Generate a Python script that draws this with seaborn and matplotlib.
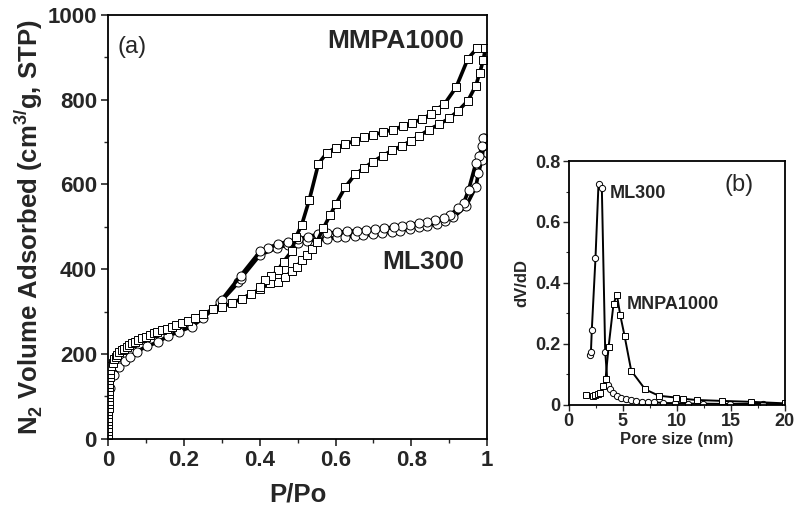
import numpy as np
import pandas as pd
import matplotlib
matplotlib.use("Agg")
import matplotlib.pyplot as plt
from matplotlib.ticker import MultipleLocator, FuncFormatter
import seaborn as sns

sns.set_style("ticks")
plt.rcParams['font.family'] = ['Liberation Sans', 'DejaVu Sans']
plt.rcParams['font.weight'] = 'bold'
plt.rcParams['mathtext.fontset'] = 'custom'
plt.rcParams['mathtext.bf'] = 'Liberation Sans:bold'
plt.rcParams['mathtext.rm'] = 'Liberation Sans:bold'

# ------------------------------
# (a) N2 isotherms, P/Po vs volume adsorbed
mmpa_ads_x = [0.0005, 0.0006, 0.0007, 0.0008, 0.0009, 0.001, 0.0011, 0.0012, 0.0013, 0.0014,
              0.0015, 0.0017, 0.0019, 0.0021, 0.0024, 0.0027, 0.003, 0.0035, 0.004, 0.005, 0.006,
              0.009, 0.012, 0.016, 0.02, 0.025, 0.03, 0.036, 0.042, 0.049, 0.056, 0.064, 0.072,
              0.08, 0.09, 0.1, 0.11, 0.12, 0.13, 0.142, 0.155, 0.168, 0.18, 0.195, 0.21, 0.23,
              0.25, 0.278, 0.3, 0.326, 0.353, 0.377, 0.401, 0.427, 0.449, 0.466, 0.484, 0.498,
              0.511, 0.524, 0.537, 0.551, 0.568, 0.586, 0.601, 0.626, 0.652, 0.674, 0.698, 0.725,
              0.749, 0.775, 0.799, 0.819, 0.846, 0.874, 0.9, 0.924, 0.949, 0.97, 0.98, 0.99, 0.995]
mmpa_ads_v = [2, 10, 18, 26, 34, 42, 50, 58, 66, 74,
              82, 90, 98, 106, 114, 122, 130, 138, 146, 154, 162,
              172, 180, 188, 194, 199, 204, 209, 213, 217, 221, 225, 229,
              233, 237, 241, 245, 249, 252, 256, 260, 264, 268, 273, 278, 286,
              294, 306, 311, 320, 331, 342, 353, 367, 371, 381, 395, 406,
              422, 434, 447, 465, 497, 528, 554, 594, 624, 638, 653, 668,
              680, 691, 703, 713, 729, 742, 756, 774, 797, 833, 862, 894, 921]
mmpa_des_x = [0.973, 0.949, 0.918, 0.887, 0.865, 0.852, 0.828, 0.801, 0.777, 0.751, 0.725,
              0.7, 0.675, 0.652, 0.625, 0.601, 0.577, 0.555, 0.531, 0.511, 0.496, 0.484,
              0.463, 0.449, 0.431, 0.414, 0.4]
mmpa_des_v = [921, 896, 829, 789, 776, 766, 754, 745, 737, 729, 723,
              717, 711, 703, 695, 687, 674, 649, 564, 505, 477, 442,
              418, 399, 383, 375, 358]

ml_ads_x = [0.005, 0.015, 0.03, 0.045, 0.058, 0.076, 0.102, 0.133, 0.159, 0.188, 0.221,
            0.251, 0.296, 0.344, 0.35, 0.401, 0.445, 0.475, 0.5, 0.524, 0.551, 0.577, 0.603,
            0.625, 0.652, 0.673, 0.7, 0.722, 0.748, 0.77, 0.797, 0.819, 0.841, 0.867, 0.889,
            0.911, 0.945, 0.97, 0.977, 0.986, 0.99, 0.992]
ml_ads_v = [120, 150, 170, 183, 194, 206, 218, 229, 243, 253, 265,
            285, 322, 369, 378, 434, 450, 458, 463, 467, 470, 472, 475,
            476, 479, 480, 482, 485, 488, 491, 495, 499, 503, 507, 513,
            522, 550, 594, 627, 658, 690, 709]
ml_des_x = [0.988, 0.986, 0.979, 0.97, 0.951, 0.938, 0.924, 0.902, 0.885, 0.863, 0.841,
            0.819, 0.797, 0.775, 0.753, 0.729, 0.705, 0.68, 0.656, 0.63, 0.603, 0.577,
            0.553, 0.528, 0.501, 0.475, 0.449, 0.422, 0.401, 0.35, 0.3]
ml_des_v = [709, 690, 666, 650, 587, 556, 544, 528, 520, 515, 511,
            509, 505, 502, 499, 497, 494, 493, 491, 489, 487, 485,
            482, 477, 471, 465, 460, 450, 442, 385, 328]

# ------------------------------
# (b) pore size distribution
ml_pore = [1.92, 2.05, 2.13, 2.47, 2.75, 3.06, 3.37, 3.6, 3.77, 4.07, 4.45, 4.85, 5.31,
           5.78, 6.24, 6.76, 7.31, 7.93, 8.7, 9.8, 11.0, 12.4, 14.9, 18.0, 20.0]
ml_dvdd = [0.162, 0.175, 0.246, 0.481, 0.725, 0.71, 0.175, 0.065, 0.051, 0.038, 0.03,
           0.024, 0.02, 0.016, 0.013, 0.011, 0.009, 0.009, 0.006, 0.006, 0.004, 0.004,
           0.003, 0.003, 0.002]
mnpa_pore = [1.6, 2.2, 2.45, 2.7, 2.9, 3.15, 3.4, 3.68, 4.14, 4.45, 4.76, 5.16, 5.78,
             7.07, 8.33, 9.94, 10.6, 11.85, 14.2, 16.9, 20.0]
mnpa_dvdd = [0.032, 0.03, 0.031, 0.035, 0.04, 0.062, 0.084, 0.189, 0.331, 0.362, 0.295,
             0.227, 0.112, 0.051, 0.03, 0.024, 0.02, 0.016, 0.013, 0.01, 0.005]

fig = plt.figure(figsize=(8, 5.08), dpi=100)
ax1 = fig.add_axes([0.135, 0.136, 0.474, 0.835])
ax2 = fig.add_axes([0.711, 0.203, 0.27, 0.48])

mk = dict(markerfacecolor='white', markeredgecolor='black', markeredgewidth=0.7)

def draw(ax, x, y, marker, ms, lw):
    sns.lineplot(x=x, y=y, ax=ax, color='black', linewidth=lw, marker=marker,
                 markersize=ms, estimator=None, sort=False, **mk)

draw(ax1, ml_ads_x, ml_ads_v, 'o', 6.5, 2.6)
draw(ax1, ml_des_x, ml_des_v, 'o', 6.5, 2.6)
draw(ax1, mmpa_ads_x, mmpa_ads_v, 's', 6, 2.6)
draw(ax1, mmpa_des_x, mmpa_des_v, 's', 6, 2.6)

draw(ax2, ml_pore, ml_dvdd, 'o', 4.5, 1.4)
draw(ax2, mnpa_pore, mnpa_dvdd, 's', 5, 1.4)

fmt = FuncFormatter(lambda v, p: '%g' % v)

ax1.set_xlim(0, 1)
ax1.set_ylim(0, 1000)
ax1.xaxis.set_major_locator(MultipleLocator(0.2))
ax1.xaxis.set_minor_locator(MultipleLocator(0.1))
ax1.yaxis.set_major_locator(MultipleLocator(200))
ax1.yaxis.set_minor_locator(MultipleLocator(100))
ax1.xaxis.set_major_formatter(fmt)
ax1.set_xlabel('P/Po', fontsize=18.5, fontweight='bold', labelpad=8)
ax1.set_ylabel(r'N$_\mathbf{2}$ Volume Adsorbed (cm$^\mathbf{3/}$g, STP)',
               fontsize=18.5, fontweight='bold', labelpad=2)
ax1.tick_params(which='major', direction='out', length=5, width=1.2, labelsize=16, pad=3)
ax1.tick_params(which='minor', direction='out', length=3, width=1.0)
ax1.text(0.025, 925, '(a)', fontsize=17, fontweight='normal', va='center')
ax1.text(0.94, 938, 'MMPA1000', fontsize=19, fontweight='bold', ha='right', va='center')
ax1.text(0.94, 417, 'ML300', fontsize=19, fontweight='bold', ha='right', va='center')

ax2.set_xlim(0, 20)
ax2.set_ylim(0, 0.8)
ax2.xaxis.set_major_locator(MultipleLocator(5))
ax2.xaxis.set_minor_locator(MultipleLocator(2.5))
ax2.yaxis.set_major_locator(MultipleLocator(0.2))
ax2.yaxis.set_minor_locator(MultipleLocator(0.1))
ax2.yaxis.set_major_formatter(fmt)
ax2.set_xlabel('Pore size (nm)', fontsize=12, fontweight='bold', labelpad=1)
ax2.set_ylabel('dV/dD', fontsize=12, fontweight='bold', labelpad=4)
ax2.tick_params(which='major', direction='out', length=4, width=1.0, labelsize=13, pad=2)
ax2.tick_params(which='minor', direction='out', length=2.5, width=0.8)
ax2.text(15.8, 0.72, '(b)', fontsize=17, fontweight='normal', ha='center', va='center')
ax2.text(3.8, 0.695, 'ML300', fontsize=13, fontweight='bold', va='center')
ax2.text(5.4, 0.33, 'MNPA1000', fontsize=13, fontweight='bold', va='center')

for ax in (ax1, ax2):
    for s in ax.spines.values():
        s.set_linewidth(1.3)
        s.set_color('black')

fig.savefig('out.png', dpi=100)
